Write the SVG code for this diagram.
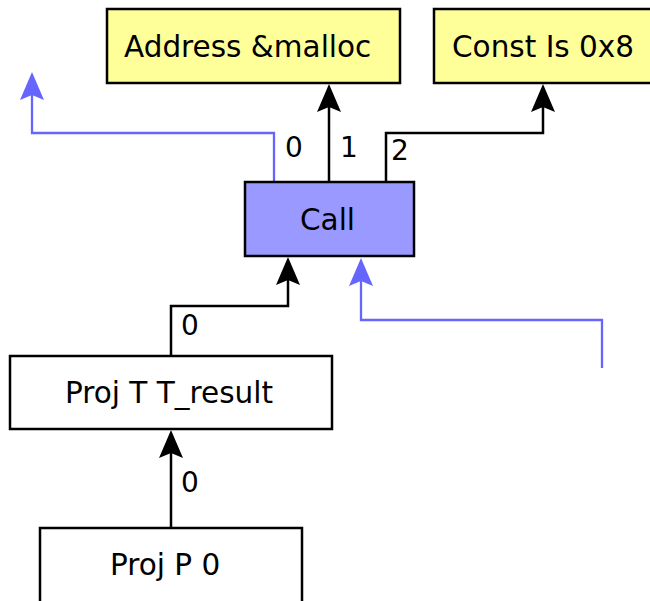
<svg xmlns="http://www.w3.org/2000/svg" width="650" height="601" viewBox="0 0 650 601">
  <defs>
    <style>
      .box { stroke: #000; stroke-width: 2.5; }
      .const { fill: #ffff99; }
      .call { fill: #9999ff; }
      .plain { fill: #ffffff; }
      .lbl { font-family: "DejaVu Sans", "Liberation Sans", sans-serif; font-size: 29.5px; fill: #000; }
      .elbl { font-family: "DejaVu Sans", "Liberation Sans", sans-serif; font-size: 28px; fill: #000; }
      .edge { fill: none; stroke: #000; stroke-width: 2.5; }
      .mem { fill: none; stroke: #6666ff; stroke-width: 2.3; }
      .head { fill: #000; }
      .headBlue { fill: #6666ff; }
    </style>
    <!-- upward arrowhead, tip at origin -->
    <path id="up" d="M0,0 L-12,28 L0,23 L12,28 Z"/>
  </defs>
  <rect width="650" height="601" fill="#fff"/>

  <g id="edges">
    <!-- Call memory output, leaving to the left -->
    <path class="mem" d="M274,182 V133 H32 V90"/>
    <use href="#up" class="headBlue" x="32" y="72"/>
    <!-- Call -> Address &malloc -->
    <path class="edge" d="M329,182 V100"/>
    <use href="#up" class="head" x="329" y="84"/>
    <!-- Call -> Const Is 0x8 -->
    <path class="edge" d="M386,182 V133 H543 V100"/>
    <use href="#up" class="head" x="543" y="84"/>
    <!-- Proj T T_result -> Call -->
    <path class="edge" d="M171,356 V306 H288 V272"/>
    <use href="#up" class="head" x="288" y="257"/>
    <!-- incoming memory edge from the right -->
    <path class="mem" d="M602,368 V320 H361 V275"/>
    <use href="#up" class="headBlue" x="361" y="258"/>
    <!-- Proj P 0 -> Proj T T_result -->
    <path class="edge" d="M171,528 V445"/>
    <use href="#up" class="head" x="171" y="430"/>

    <text class="elbl" x="285" y="157">0</text>
    <text class="elbl" x="340" y="157">1</text>
    <text class="elbl" x="391" y="160">2</text>
    <text class="elbl" x="181" y="335">0</text>
    <text class="elbl" x="181" y="492">0</text>
  </g>

  <g id="node-address">
    <rect class="box const" x="107" y="9" width="293" height="74"/>
    <text class="lbl" x="124" y="57">Address &amp;malloc</text>
  </g>

  <g id="node-const">
    <rect class="box const" x="434" y="9" width="230" height="74"/>
    <text class="lbl" x="452" y="57">Const Is 0x8</text>
  </g>

  <g id="node-call">
    <rect class="box call" x="245" y="182" width="169" height="74"/>
    <text class="lbl" x="300" y="230">Call</text>
  </g>

  <g id="node-projt">
    <rect class="box plain" x="10" y="356" width="322" height="73"/>
    <text class="lbl" x="65" y="403">Proj T T_result</text>
  </g>

  <g id="node-projp">
    <rect class="box plain" x="40" y="528" width="262" height="90"/>
    <text class="lbl" x="110" y="575">Proj P 0</text>
  </g>
</svg>
